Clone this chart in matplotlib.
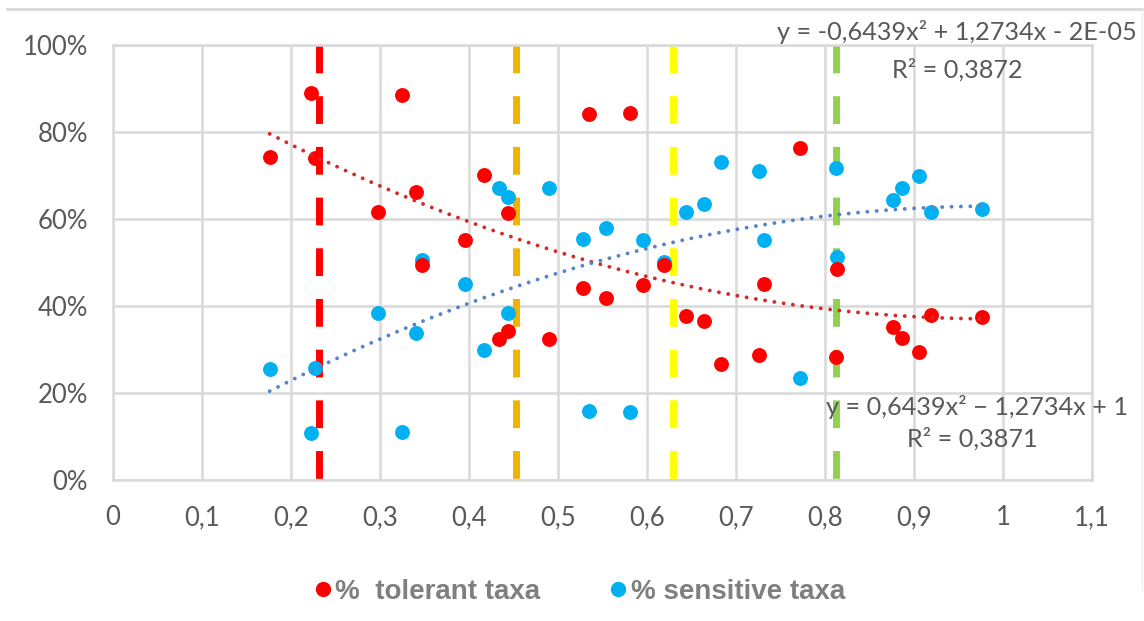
import numpy as np
import matplotlib.pyplot as plt
from matplotlib.lines import Line2D

# data
x_vals = [0.176, 0.222, 0.227, 0.298, 0.325, 0.340, 0.347, 0.396, 0.417, 0.434,
          0.444, 0.444, 0.490, 0.528, 0.535, 0.554, 0.581, 0.596, 0.619, 0.644,
          0.664, 0.683, 0.726, 0.731, 0.772, 0.812, 0.813, 0.876, 0.887, 0.906,
          0.919, 0.976]
tolerant = [0.743, 0.890, 0.740, 0.616, 0.885, 0.662, 0.494, 0.552, 0.701, 0.324,
            0.343, 0.614, 0.324, 0.441, 0.841, 0.418, 0.843, 0.448, 0.494, 0.377,
            0.365, 0.267, 0.287, 0.450, 0.764, 0.282, 0.485, 0.352, 0.326, 0.295,
            0.379, 0.375]
sensitive = [0.255, 0.108, 0.257, 0.383, 0.110, 0.338, 0.506, 0.450, 0.299, 0.672,
             0.651, 0.383, 0.672, 0.554, 0.159, 0.579, 0.156, 0.552, 0.501, 0.617,
             0.634, 0.732, 0.711, 0.552, 0.234, 0.718, 0.513, 0.644, 0.672, 0.700,
             0.617, 0.623]

# trendline coefficients as printed on the chart (x^2, x, 1)
tol_coef = [0.6439, -1.2734, 1.0]
sens_coef = [-0.6439, 1.2734, -2e-05]

# vertical threshold lines
thresholds = [0.231, 0.453, 0.629, 0.812]
thr_colors = ["#FF0000", "#F2B200", "#FFFF00", "#92D050"]

x_ticks = [0, 0.1, 0.2, 0.3, 0.4, 0.5, 0.6, 0.7, 0.8, 0.9, 1.0, 1.1]
x_labels = ["0", "0,1", "0,2", "0,3", "0,4", "0,5", "0,6", "0,7", "0,8", "0,9", "1", "1,1"]
y_ticks = [0, 0.2, 0.4, 0.6, 0.8, 1.0]
y_labels = ["0%", "20%", "40%", "60%", "80%", "100%"]

red = "#FF0000"
blue = "#00B0F0"
grey = "#595959"
grid = "#D9D9D9"

fig = plt.figure(figsize=(11.44, 6.21), dpi=100)
ax = fig.add_axes([0.0988, 0.2271, 0.8557, 0.7004])

for xv, c in zip(thresholds, thr_colors):
    ax.plot([xv, xv], [1.0, 0.0], color=c, lw=5, dashes=(4, 3.3), zorder=2)

ax.scatter(x_vals, tolerant, s=115, color=red, zorder=4, linewidths=0)
ax.scatter(x_vals, sensitive, s=115, color=blue, zorder=3, linewidths=0)

xx = np.linspace(min(x_vals), max(x_vals), 200)
ax.plot(xx, np.polyval(tol_coef, xx), color="#D42A2A", lw=2.8,
        dashes=(0.01, 2.4), dash_capstyle="round", zorder=5)
ax.plot(xx, np.polyval(sens_coef, xx), color="#5585C8", lw=2.8,
        dashes=(0.01, 2.4), dash_capstyle="round", zorder=5)

ax.set_xlim(0, 1.1)
ax.set_ylim(0, 1.0)
ax.set_xticks(x_ticks)
ax.set_xticklabels(x_labels)
ax.set_yticks(y_ticks)
ax.set_yticklabels(y_labels)
ax.grid(True, color=grid, lw=1.8, zorder=0)
ax.set_axisbelow(True)
for sp in ax.spines.values():
    sp.set_color(grid)
    sp.set_linewidth(1.8)
ax.tick_params(length=0, labelcolor=grey, labelsize=18.5)
ax.tick_params(axis="x", pad=18)
ax.tick_params(axis="y", pad=18)
for lab in ax.get_xticklabels() + ax.get_yticklabels():
    lab.set_fontfamily("Lato")

# trendline equations
eq_font = dict(color=grey, fontsize=18.2, family="Lato")
fig.text(1137 / 1144, 1 - 32 / 621, "y = -0,6439x² + 1,2734x - 2E-05",
         ha="right", va="center", **eq_font)
fig.text(957 / 1144, 1 - 70 / 621, "R² = 0,3872",
         ha="center", va="center", **eq_font)
fig.text(1128 / 1144, 1 - 407 / 621, "y = 0,6439x² \u2212 1,2734x + 1",
         ha="right", va="center", **eq_font)
fig.text(972 / 1144, 1 - 439 / 621, "R² = 0,3871",
         ha="center", va="center", **eq_font)

# chart frame (partly visible in the reference)
fig.add_artist(Line2D([7 / 1144, 1142 / 1144], [1 - 9 / 621, 1 - 9 / 621],
                      color=grid, lw=2))
fig.add_artist(Line2D([1142 / 1144, 1142 / 1144], [1 - 9 / 621, 0.05],
                      color="#EEEEEE", lw=1))

handles = [Line2D([], [], marker="o", ls="", color=red, markersize=10),
           Line2D([], [], marker="o", ls="", color=blue, markersize=10)]
leg = fig.legend(handles, ["%  tolerant taxa", "% sensitive taxa"],
                 loc="center", bbox_to_anchor=(0.503, 0.047), ncol=2,
                 frameon=False, handletextpad=-0.15, handlelength=1.2,
                 columnspacing=2.2,
                 prop={"family": "Liberation Sans", "weight": "bold", "size": 20})
for t in leg.get_texts():
    t.set_color("#7F7F7F")

plt.savefig("out.png", dpi=100)
